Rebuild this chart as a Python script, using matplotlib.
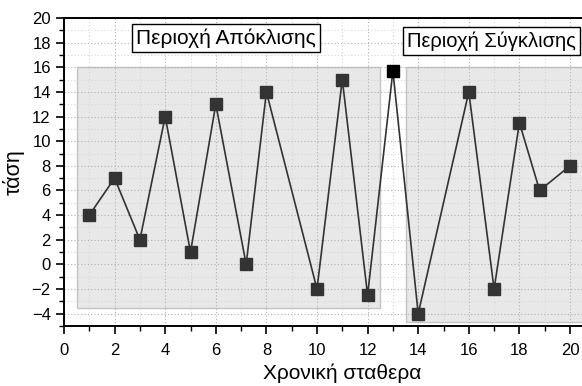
import matplotlib
matplotlib.use("Agg")
import matplotlib.pyplot as plt
from matplotlib.patches import Rectangle
from matplotlib.ticker import MultipleLocator, FixedLocator

plt.rcParams['font.family'] = ['Liberation Sans', 'DejaVu Sans']

# Time constant vs. voltage samples
x_vals = [1, 2, 3, 4, 5, 6, 7.2, 8, 10, 11, 12, 13, 14, 16, 17, 18, 18.8, 20]
y_vals = [4, 7, 2, 12, 1, 13, 0, 14, -2, 15, -2.5, 15.7, -4, 14, -2, 11.5, 6, 8]
highlight_index = 11  # the turning point between the two regions

x_ticks = [0, 2, 4, 6, 8, 10, 12, 14, 16, 18, 20]
y_ticks = [-4, -2, 0, 2, 4, 6, 8, 10, 12, 14, 16, 18, 20]

# Shaded regions: (x0, x1, y0, y1)
divergence_region = (0.5, 12.5, -3.5, 16)
convergence_region = (13.5, 22.5, -4.7, 16)
divergence_label = "Περιοχή Απόκλισης"
convergence_label = "Περιοχή Σύγκλισης"
x_label = "Χρονική σταθερα"
y_label = "τάση"

fig = plt.figure(figsize=(5.82, 3.86), dpi=100)
W, H = 582, 386
left, right, top, bottom = 64, 620.6, 18, 326
ax = fig.add_axes([left / W, (H - bottom) / H, (right - left) / W, (bottom - top) / H])
ax.set_xlim(0, 22)
ax.set_ylim(-5, 20)

for (x0, x1, y0, y1) in (divergence_region, convergence_region):
    ax.add_patch(Rectangle((x0, y0), x1 - x0, y1 - y0, facecolor='#e8e8e8',
                           edgecolor='#c4c4c4', linewidth=1.0, zorder=0.2))

ax.set_axisbelow(True)
ax.xaxis.set_major_locator(FixedLocator(x_ticks))
ax.xaxis.set_minor_locator(MultipleLocator(1))
ax.yaxis.set_major_locator(FixedLocator(y_ticks))
ax.yaxis.set_minor_locator(MultipleLocator(1))
ax.grid(which='major', linestyle=(0, (1, 2)), color='#b0b0b0', linewidth=0.8)
ax.grid(which='minor', linestyle=(0, (1, 2)), color='#d6d6d6', linewidth=0.8)

ax.plot(x_vals, y_vals, color='#333333', linewidth=1.2, zorder=3)
others = [i for i in range(len(x_vals)) if i != highlight_index]
ax.plot([x_vals[i] for i in others], [y_vals[i] for i in others], linestyle='none',
        marker='s', markersize=8.5, markerfacecolor='#333333', markeredgecolor='#333333', zorder=4)
ax.plot([x_vals[highlight_index]], [y_vals[highlight_index]], linestyle='none',
        marker='s', markersize=8.5, markerfacecolor='black', markeredgecolor='black', zorder=4)

box = dict(boxstyle='square,pad=0.2', facecolor='white', edgecolor='black', linewidth=1.0)
ax.text(6.4, 18.35, divergence_label, ha='center', va='center', fontsize=15, bbox=box, zorder=5)
ax.text(16.88, 18.15, convergence_label, ha='center', va='center', fontsize=14.5, bbox=box, zorder=5)

ax.spines['right'].set_visible(False)
for s in ('left', 'bottom', 'top'):
    ax.spines[s].set_linewidth(1.4)
ax.tick_params(which='major', direction='out', length=6, width=1.2, labelsize=12,
               top=False, right=False, pad=3.5)
ax.tick_params(axis='x', which='major', pad=6)
ax.tick_params(which='minor', direction='out', length=3.5, width=1.0, top=False, right=False)

ax.set_xlabel(x_label, fontsize=15, labelpad=4)
ax.set_ylabel(y_label, fontsize=15.5, labelpad=5)

fig.savefig("out.png", dpi=100)
